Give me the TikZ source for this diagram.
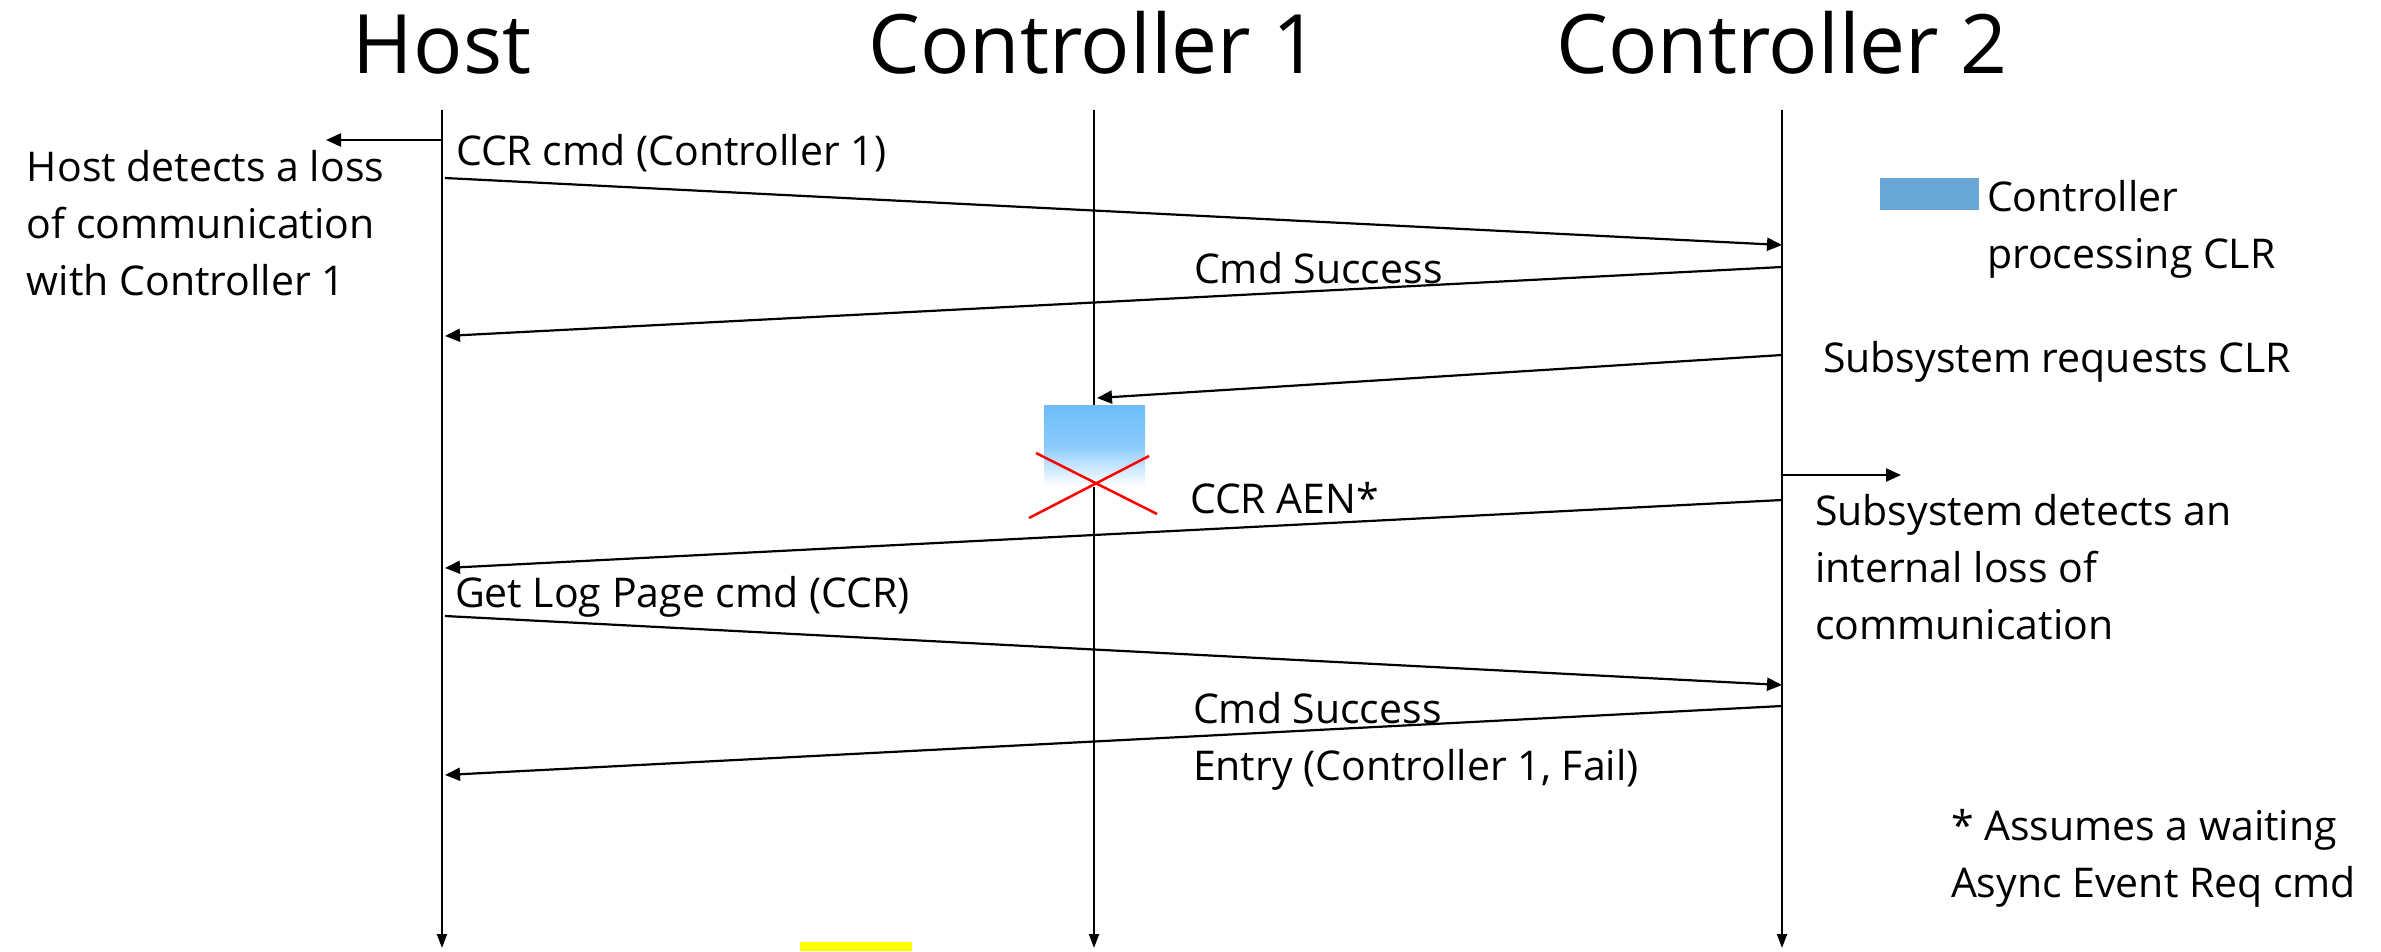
\documentclass[tikz,border=0pt]{standalone}
\usepackage{fontspec}
\setmainfont{Open Sans}
\usetikzlibrary{arrows.meta}
\definecolor{legendblue}{RGB}{104,167,214}
\definecolor{procblue}{RGB}{108,189,250}
\definecolor{markyellow}{RGB}{255,255,0}
\definecolor{crossred}{RGB}{255,0,0}

\begin{document}
\begin{tikzpicture}[x=1pt,y=-1pt,
  every node/.style={inner sep=0pt, outer sep=0pt},
  title/.style={font=\fontsize{82}{98}\selectfont, anchor=base},
  lbl/.style={font=\fontsize{41}{57}\selectfont, anchor=base west},
  life/.style={line width=2pt, -{Triangle[length=14pt,width=10pt]}},
  msg/.style={line width=2.2pt, -{Triangle[length=15pt,width=13pt]}},
  ]
\useasboundingbox (0,0) rectangle (2381,951);

% participants
\node[title] (host) at (442,73) {Host};
\node[title] (ctrlA) at (1094,73) {Controller 1};
\node[title] (ctrlB) at (1782,73) {Controller 2};

% lifelines
\coordinate (hostTop) at (442,110);  \coordinate (hostBot) at (442,948);
\coordinate (ctrlATop) at (1094,110); \coordinate (ctrlABot) at (1094,948);
\coordinate (ctrlBTop) at (1782,110); \coordinate (ctrlBBot) at (1782,948);
\draw[life] (hostTop) -- (hostBot);
\draw[life] (ctrlATop) -- (ctrlABot);
\draw[life] (ctrlBTop) -- (ctrlBBot);

% host notices the lost controller
\coordinate (hostLossA) at (442,140); \coordinate (hostLossB) at (326,140);
\draw[msg] (hostLossA) -- (hostLossB);
\node[lbl] (hostnote) at (27,181)
  {\begin{tabular}[t]{@{}l@{}}Host detects a loss\\of communication\\with Controller 1\end{tabular}};

% message 1: CCR command
\coordinate (m1s) at (445,178); \coordinate (m1e) at (1782,245);
\draw[msg] (m1s) -- (m1e);
\node[lbl] (m1lbl) at (456,165) {CCR cmd (Controller 1)};

% message 2: command success
\coordinate (m2s) at (1782,267); \coordinate (m2e) at (445,336);
\draw[msg] (m2s) -- (m2e);
\node[lbl] (m2lbl) at (1194,283) {Cmd Success};

% legend
\fill[legendblue] (1880,178) rectangle (1979,210);
\node[lbl] (legendtxt) at (1987,211)
  {\begin{tabular}[t]{@{}l@{}}Controller\\processing CLR\end{tabular}};

% message 3: subsystem requests CLR
\coordinate (m3s) at (1782,355); \coordinate (m3e) at (1097,398);
\draw[msg] (m3s) -- (m3e);
\node[lbl] (m3lbl) at (1823,372) {Subsystem requests CLR};

% controller 1 processing, then lost
\shade[top color=procblue, bottom color=white, middle color=procblue!80!white]
  (1044,405) rectangle (1145,486);
\coordinate (xa1) at (1036,453); \coordinate (xa2) at (1157,514);
\coordinate (xb1) at (1029,518); \coordinate (xb2) at (1149,456);
\draw[crossred, line width=2.5pt] (xa1) -- (xa2);
\draw[crossred, line width=2.5pt] (xb1) -- (xb2);

% subsystem notices the loss
\coordinate (subLossA) at (1782,475); \coordinate (subLossB) at (1901,475);
\draw[msg] (subLossA) -- (subLossB);
\node[lbl] (subnote) at (1815,525)
  {\begin{tabular}[t]{@{}l@{}}Subsystem detects an\\internal loss of\\communication\end{tabular}};

% message 4: CCR AEN
\coordinate (m4s) at (1782,500); \coordinate (m4e) at (445,568);
\draw[msg] (m4s) -- (m4e);
\node[lbl] (m4lbl) at (1190,513) {CCR AEN*};

% message 5: get log page
\coordinate (m5s) at (445,616); \coordinate (m5e) at (1782,685);
\draw[msg] (m5s) -- (m5e);
\node[lbl] (m5lbl) at (455,607) {Get Log Page cmd (CCR)};

% message 6: log page returned
\coordinate (m6s) at (1782,706); \coordinate (m6e) at (445,775);
\draw[msg] (m6s) -- (m6e);
\node[lbl] (m6lbl) at (1193,723)
  {\begin{tabular}[t]{@{}l@{}}Cmd Success\\Entry (Controller 1, Fail)\end{tabular}};

% footnote
\node[lbl] (footnote) at (1951,840)
  {\begin{tabular}[t]{@{}l@{}}* Assumes a waiting\\Async Event Req cmd\end{tabular}};

% highlight bar
\fill[markyellow] (800,942) rectangle (912,951);
\end{tikzpicture}
\end{document}
